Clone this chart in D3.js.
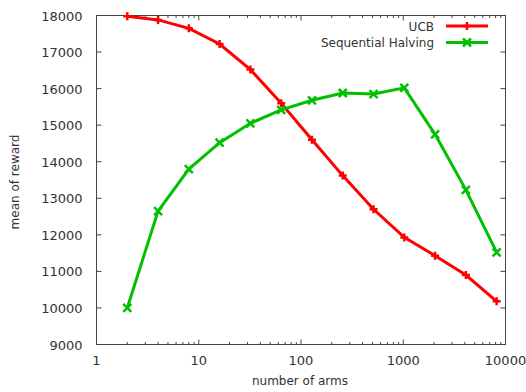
<!DOCTYPE html>
<html><head><meta charset="utf-8">
<script src="https://cdn.jsdelivr.net/npm/d3@7"></script>
<style>body{margin:0;background:#fff}svg text{font-family:"DejaVu Sans",sans-serif;fill:#333}</style>
</head><body><svg id="c" width="526" height="392"></svg>
<script>
const arms = [2,4,8,16,32,64,128,256,512,1024,2048,4096,8192];
const ucb = [17980,17880,17650,17220,16520,15600,14600,13620,12700,11930,11430,10900,10180];
const sh = [10000,12650,13800,14520,15050,15420,15680,15880,15850,16020,14750,13230,11520];
const xTicks = [1,10,100,1000,10000];
const yTicks = [9000,10000,11000,12000,13000,14000,15000,16000,17000,18000];
const seriesNames = ["UCB","Sequential Halving"];
const colors = ["#ff0000","#00c000"];

const svg = d3.select("#c");
const L=96.5,R=505.5,T=15.5,B=344.5;
const x = d3.scaleLog().domain([1,10000]).range([L,R]);
const y = d3.scaleLinear().domain([9000,18000]).range([B,T]);
const axc="#444";
const fs=13;

const minor=[];
for(let d=1; d<10000; d*=10) for(let k=2;k<10;k++) minor.push(d*k);
const g=svg.append("g");
minor.forEach(v=>{
  g.append("line").attr("x1",x(v)).attr("x2",x(v)).attr("y1",B).attr("y2",B-2.5).attr("stroke",axc);
  g.append("line").attr("x1",x(v)).attr("x2",x(v)).attr("y1",T).attr("y2",T+2.5).attr("stroke",axc);
});
xTicks.forEach(v=>{
  g.append("line").attr("x1",x(v)).attr("x2",x(v)).attr("y1",B).attr("y2",B-5).attr("stroke",axc);
  g.append("line").attr("x1",x(v)).attr("x2",x(v)).attr("y1",T).attr("y2",T+5).attr("stroke",axc);
  g.append("text").attr("x",x(v)).attr("y",B+20).attr("text-anchor","middle").attr("font-size",fs).text(d3.format("d")(v));
});
yTicks.forEach(v=>{
  g.append("line").attr("x1",L).attr("x2",L+5).attr("y1",y(v)).attr("y2",y(v)).attr("stroke",axc);
  g.append("line").attr("x1",R).attr("x2",R-5).attr("y1",y(v)).attr("y2",y(v)).attr("stroke",axc);
  g.append("text").attr("x",L-14).attr("y",y(v)+5).attr("text-anchor","end").attr("font-size",fs).text(v);
});
g.append("rect").attr("x",L).attr("y",T).attr("width",R-L).attr("height",B-T).attr("fill","none").attr("stroke",axc);

svg.append("text").attr("x",300).attr("y",385).attr("text-anchor","middle").attr("font-size",12).text("number of arms");
svg.append("text").attr("transform","translate(19,182) rotate(-90)").attr("text-anchor","middle").attr("font-size",12).text("mean of reward");

const line=d3.line().x(d=>x(d[0])).y(d=>y(d[1]));
const datasets=[ucb,sh];
function marker(sel,i,cx,cy){
  const s=4;
  if(i===0){
    sel.append("path").attr("d",`M${cx-s},${cy}H${cx+s}M${cx},${cy-s}V${cy+s}`).attr("stroke",colors[i]).attr("stroke-width",2.5);
  } else {
    sel.append("path").attr("d",`M${cx-s},${cy-s}L${cx+s},${cy+s}M${cx-s},${cy+s}L${cx+s},${cy-s}`).attr("stroke",colors[i]).attr("stroke-width",2.5);
  }
}
datasets.forEach((vals,i)=>{
  const pts=arms.map((a,j)=>[a,vals[j]]);
  svg.append("path").attr("d",line(pts)).attr("fill","none").attr("stroke",colors[i]).attr("stroke-width",3);
  const mg=svg.append("g");
  pts.forEach(p=>marker(mg,i,x(p[0]),y(p[1])));
});
seriesNames.forEach((n,i)=>{
  const ly=26+i*16.5;
  svg.append("text").attr("x",434).attr("y",ly+4.5).attr("text-anchor","end").attr("font-size",12).text(n);
  svg.append("line").attr("x1",446).attr("x2",488).attr("y1",ly).attr("y2",ly).attr("stroke",colors[i]).attr("stroke-width",3);
  marker(svg,i,467,ly);
});
</script></body></html>
